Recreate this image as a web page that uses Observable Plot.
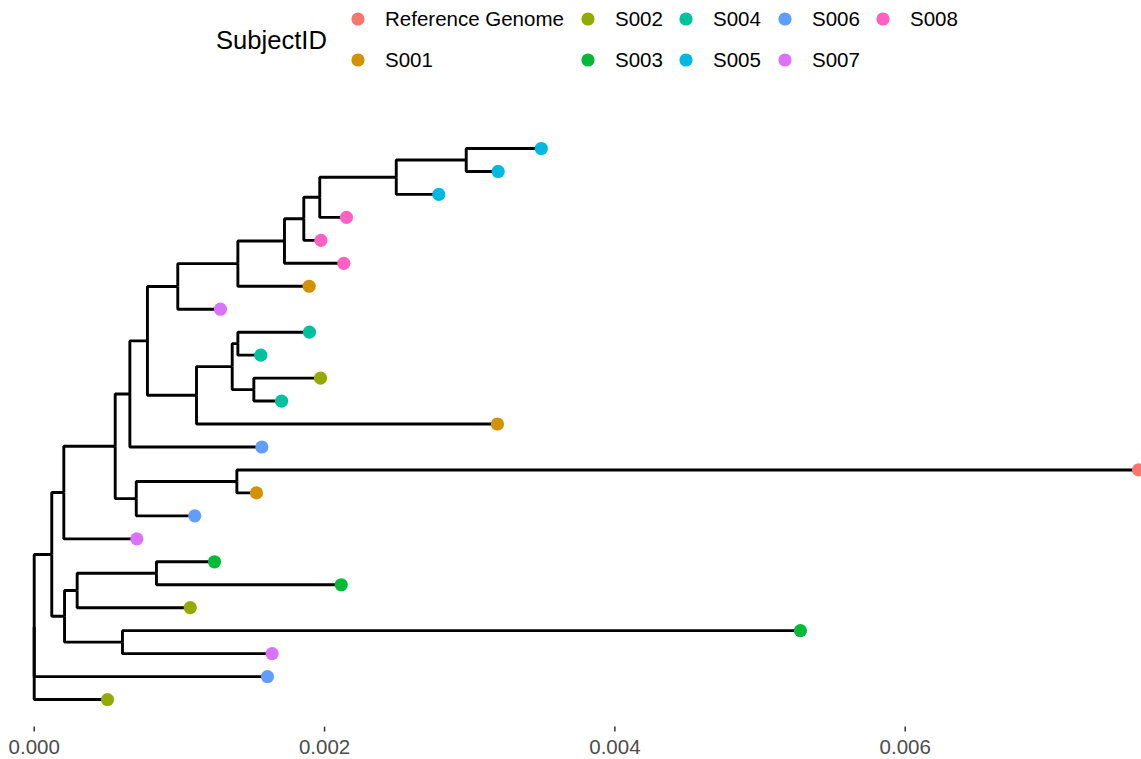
<!DOCTYPE html>
<html>
<head>
<meta charset="utf-8">
<script src="https://cdn.jsdelivr.net/npm/d3@7"></script>
<script src="https://cdn.jsdelivr.net/npm/@observablehq/plot@0.6"></script>
<style>
  html, body { margin: 0; padding: 0; background: #fff; }
  #legend, #chart { display: block; }
</style>
</head>
<body>
<svg id="legend" width="1141" height="90"></svg>
<div id="chart"></div>
<script>
// ---- Data ----
const subjects = ["Reference Genome","S001","S002","S003","S004","S005","S006","S007","S008"];
const subjectColors = ["#F8766D","#D39200","#93AA00","#00BA38","#00C19F","#00B9E3","#619CFF","#DB72FB","#FF61C3"];

// tips listed top to bottom
const tipSubject = ["S005","S005","S005","S008","S008","S008","S001","S007","S004","S004","S002","S004","S001","S006","Reference Genome","S001","S006","S007","S003","S003","S002","S003","S007","S006","S002"];
const tipDist = [0.003493,0.003196,0.002787,0.002151,0.001975,0.002133,0.001894,0.001283,0.001896,0.001561,0.001972,0.001704,0.003191,0.001568,0.007607,0.001531,0.001106,0.000707,0.001242,0.002115,0.001075,0.005278,0.001639,0.001607,0.000505];
const tipParent = ["A","A","B","C","D","E","F","G","K","K","L","L","I","M","P","P","O","Q","V","V","T","U","U","root","root"];

// internal nodes
const nodeIds = ["A","B","C","D","E","F","G","H","I","J","K","L","M","N","O","P","Q","R","S","T","U","V","root"];
const nodeParent = ["B","C","D","E","F","G","H","M","H","I","J","J","N","Q","N","O","R","root","R","S","S","T",null];
const nodeDist = [0.002976,0.002494,0.001967,0.001857,0.001724,0.001403,0.000989,0.000780,0.001118,0.001364,0.001403,0.001513,0.000659,0.000558,0.000703,0.001396,0.000204,0.000121,0.000209,0.000296,0.000608,0.000842,0];

const xTicks = [0, 0.002, 0.004, 0.006];

// ---- Build tree layout ----
const nodes = new Map();
nodeIds.forEach((id, i) => nodes.set(id, {id, x: nodeDist[i], parent: nodeParent[i], children: []}));
const tips = tipSubject.map((s, i) => ({id: "t" + i, x: tipDist[i], y: i, parent: tipParent[i], subject: s, children: []}));
tips.forEach(t => nodes.get(t.parent).children.push(t));
nodeIds.forEach((id, i) => { if (nodeParent[i]) nodes.get(nodeParent[i]).children.push(nodes.get(id)); });
function layoutY(n) {
  if (n.y !== undefined) return n.y;
  const ys = n.children.map(layoutY);
  n.y = (d3.min(ys) + d3.max(ys)) / 2;
  return n.y;
}
layoutY(nodes.get("root"));
const links = [];
for (const n of [...tips, ...nodes.values()]) {
  if (!n.parent) continue;
  const p = nodes.get(n.parent);
  links.push({x1: p.x, y1: p.y, x2: n.x, y2: n.y});
}

// ---- Plot ----
const H = 669;
const chart = Plot.plot({
  width: 1141,
  height: H,
  marginLeft: 33.7,
  marginRight: 4,
  marginTop: 58,
  marginBottom: H - 636.6,
  style: {fontFamily: "'Liberation Sans', Arial, sans-serif", background: "#fff"},
  x: {domain: [0, 0.0076], axis: null},
  y: {domain: [0, 25.2], range: [58, 636.6], axis: null},
  color: {domain: subjects, range: subjectColors, legend: false},
  marks: [
    Plot.axisX({ticks: xTicks, tickFormat: d3.format(".3f"), tickSize: 5, tickPadding: 7,
      stroke: "#333333", fill: "#4D4D4D", fontSize: 20.5, label: null, strokeWidth: 1.5}),
    Plot.link(links, {x1: "x1", y1: "y1", x2: "x2", y2: "y2", curve: "step-before",
      stroke: "black", strokeWidth: 2.9}),
    Plot.dot(tips, {x: "x", y: "y", fill: "subject", r: 6.6, stroke: null})
  ]
});
document.getElementById("chart").appendChild(chart);

// ---- Legend (above the plot) ----
const leg = d3.select("#legend").style("font-family", "'Liberation Sans', Arial, sans-serif");
const colX = [358, 588, 686, 785, 883];
const rowY = [19, 60];
leg.append("text").attr("x", 216).attr("y", 39.5 + 0.358 * 25.6)
  .attr("font-size", 25.6).attr("fill", "#000").text("SubjectID");
subjects.forEach((s, i) => {
  const cx = colX[Math.floor(i / 2)], cy = rowY[i % 2];
  leg.append("circle").attr("cx", cx).attr("cy", cy).attr("r", 6.6).attr("fill", subjectColors[i]);
  leg.append("text").attr("x", cx + 27).attr("y", cy + 0.358 * 20.5)
    .attr("font-size", 20.5).attr("fill", "#000").text(s);
});
</script>
</body>
</html>
